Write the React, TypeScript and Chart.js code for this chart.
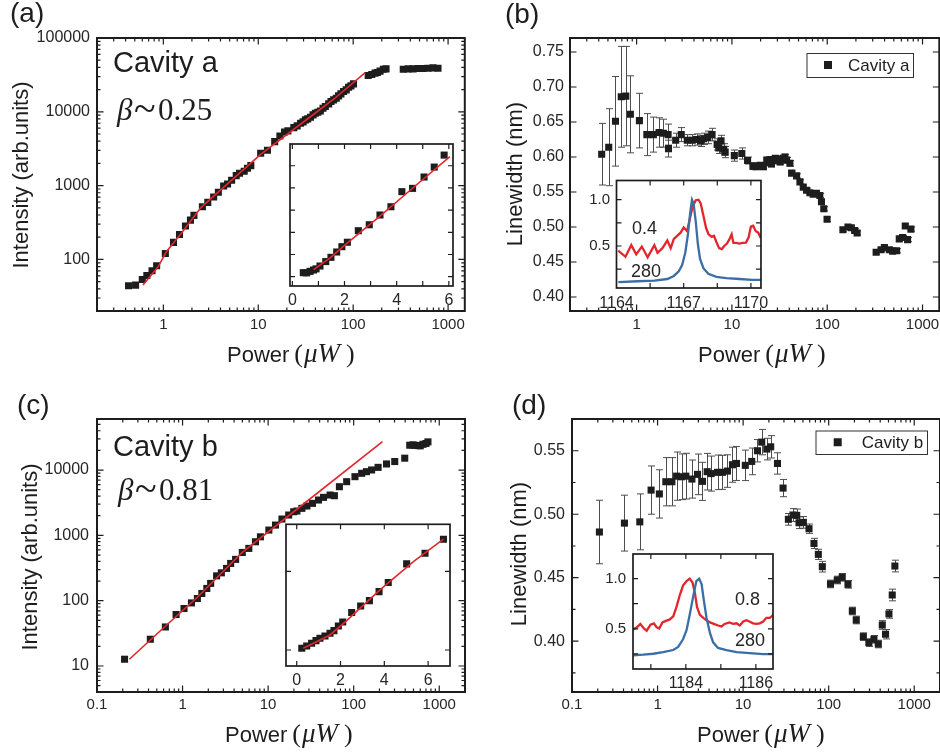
import React, { useEffect, useRef } from "react";
import { Chart, registerables } from "chart.js";

Chart.register(...registerables);

const SANS = '"Liberation Sans", Arial, Helvetica, sans-serif';
const SERIF = '"Liberation Serif", "Times New Roman", serif';
const INK = "#1d1d1d";
const LABEL = "#262626";
const RED = "#e3262b";
const BLUE = "#3b6ea6";
const ERRC = "#4d4d4d";

// ---------------- Panel (a) ----------------
const A_POWER = [0.43,0.51,0.60,0.67,0.76,0.85,1.05,1.28,1.48,1.71, 1.93,2.10,2.58,2.94,3.39,3.80,4.32,4.75,5.24,5.86, 6.35,7.11,7.70,8.35,10.6,12.5,14.9,16.9,18.9,20.5, 23.7,25.7,27.9,29.7,31.4,33.2,35.5,37.8,40.0,42.4, 45.1,48.1,50.9,55.2,58.4,62.2,66.4,70.2,74.3,79.2, 84.5,89.4,94.6,100.8,144,157,170,180,192,208, 222,337,380,428,483,545,615,694,783];
const A_INTENSITY = [43.9,44.8,53.5,60.6,70.1,82,120,170,218,283, 341,395,518,593,700,811,988,1052,1180,1365, 1469,1563,1718,1864,2741,3013,3945,4710,5335,5510, 6110,6440,7000,7300,7770,8020,8440,9080,9570,9870, 10280,11170,11770,12800,13770,14500,15270,16430,17500,18800, 19820,21540,22440,23900,31000,32000,33400,34000,35600,37800, 38200,37800,38200,38200,38600,38600,39000,39400,39000];
const A_FIT_POWER = [0.61,0.88,1.075,1.54,2.50,10.6,32.7,62.2,134];
const A_FIT_INTENSITY = [45,79.5,127,225,507,2657,7930,14800,34000];
const A_X_TICKS = [1, 10, 100, 1000];
const A_Y_TICKS = [100, 1000, 10000, 100000];

const A_INSET_POWER = [0.42,0.55,0.68,0.81,0.91,1.06,1.28,1.48,1.70,1.90,2.11,2.53,2.95,3.36,3.78,4.20,4.61,5.05,5.44,5.82];
const A_INSET_INTENSITY = [45,43,60,75,88,120,170,218,278,338,388,518,585,695,788,958,995,1123,1235,1370];
const A_INSET_FIT_POWER = [0.81,1.44,2.09,3.36,4.64,6.04];
const A_INSET_FIT_INTENSITY = [80,208,375,683,1005,1353];
const A_INSET_X_TICKS = [0, 2, 4, 6];

// ---------------- Panel (b) ----------------
const B_POWER = [0.43,0.51,0.60,0.69,0.77,0.86,1.07,1.28,1.50,1.72,1.91,2.14,2.16,2.57,2.94,3.40,3.84,4.26,4.69,5.07,5.58,6.19,7.00,7.28,7.69,8.20,8.50,10.6,12.7,14.6,16.6,18.0,19.8,21.4,23.2,24.0,25.1,26.0,27.2,28.5,29.5,31.0,32.0,34.6,36.0,37.5,40.6,42.3,47.7,51.7,56.0,60.7,65.7,71.2,77.1,83.6,87.0,92.0,99.6,146,165,179,194,206,326,367,398,449,486,535,570,618,659,697,755];
const B_LINEWIDTH = [0.604,0.614,0.651,0.686,0.687,0.661,0.652,0.632,0.632,0.635,0.634,0.632,0.612,0.624,0.632,0.624,0.624,0.625,0.623,0.626,0.628,0.632,0.618,0.613,0.623,0.611,0.607,0.602,0.605,0.595,0.587,0.586,0.588,0.586,0.5955,0.592,0.5965,0.590,0.5946,0.598,0.5955,0.597,0.593,0.598,0.600,0.5955,0.591,0.577,0.573,0.5645,0.557,0.5525,0.549,0.547,0.548,0.545,0.536,0.526,0.511,0.496,0.500,0.499,0.495,0.4915,0.464,0.4676,0.4705,0.4676,0.4655,0.466,0.483,0.485,0.5015,0.482,0.497];
const B_ERROR = [0.044,0.055,0.064,0.072,0.071,0.055, 0.039,0.030,0.025,0.021,0.020,0.015,0.012, 0.010,0.010,0.008,0.008,0.008,0.008,0.008,0.009,0.009, 0.008,0.008,0.008,0.008,0.008,0.008,0.008, 0.005,0.005, 0.004,0.004,0.004,0.004,0.004,0.004,0.004,0.004,0.004,0.004,0.004,0.004,0.004,0.004,0.004,0.004, 0.003,0.003,0.003,0.003,0.003,0.003,0.003,0.003,0.003,0.003,0.003,0.003,0.003,0.003,0.003,0.003,0.003,0.003,0.003,0.003,0.003,0.003,0.003,0.003,0.003,0.003,0.003,0.003];
const B_X_TICKS = [1, 10, 100, 1000];
const B_Y_TICKS = [0.40, 0.45, 0.50, 0.55, 0.60, 0.65, 0.70, 0.75];

const B_INSET_RED_NM = [1164.08,1164.40,1164.66,1164.88,1165.13,1165.39,1165.69,1165.83,1166.05,1166.27,1166.42,1166.56,1166.71,1166.86,1167.00,1167.15,1167.26,1167.40,1167.54,1167.66,1167.76,1167.88,1168.00,1168.11,1168.24,1168.35,1168.46,1168.58,1168.70,1168.81,1168.93,1169.05,1169.14,1169.22,1169.34,1169.49,1169.63,1169.78,1169.90,1170.00,1170.10,1170.22,1170.33,1170.44];
const B_INSET_RED_INT = [0.45,0.384,0.51,0.41,0.494,0.377,0.51,0.427,0.477,0.56,0.477,0.577,0.61,0.644,0.70,0.66,0.777,0.927,0.994,1.0,0.96,0.827,0.694,0.627,0.60,0.61,0.544,0.477,0.467,0.50,0.527,0.577,0.627,0.534,0.534,0.527,0.534,0.537,0.594,0.71,0.72,0.66,0.644,0.587];
const B_INSET_BLUE_NM = [1164.08,1164.95,1165.69,1166.27,1166.56,1166.78,1166.93,1167.07,1167.19,1167.29,1167.37,1167.44,1167.54,1167.63,1167.73,1167.88,1168.10,1168.46,1168.90,1169.49,1170.07,1170.44];
const B_INSET_BLUE_INT = [0.11,0.12,0.127,0.144,0.177,0.227,0.294,0.427,0.627,0.86,1.0,0.96,0.76,0.527,0.36,0.26,0.20,0.167,0.154,0.144,0.134,0.134];
const B_INSET_X_TICKS = [1164, 1167, 1170];
const B_INSET_Y_TICKS = [0.5, 1.0];

// ---------------- Panel (c) ----------------
const C_POWER = [0.21,0.42,0.63,0.84,1.04,1.27,1.49,1.68,1.92,2.13, 2.50,2.84,3.27,3.65,4.17,4.99,5.95,7.11,8.13,10.2, 12.2,14.5,17.4,19.9,21.7,24.8,28.4,33.0,38.8,44.4, 53.0,59.5,68.1,82.8,103.5,124,141,162,193,242, 302,395,452,494,520,564,600,645,700,738];
const C_INTENSITY = [12.7,25.7,39.6,61.4,75.9,92.5,108,129,154,184, 240,267,312,372,429,548,632,798,951,1205, 1438,1778,2050,2300,2360,2593,2815,3092,3477,3820, 4148,4050,5560,6640,7920,8920,9450,10030,11000,12400, 13500,15200,24000,24300,23900,23700,23500,24800,25500,27000];
const C_FIT_POWER = [0.239, 0.628, 1.49, 4.98, 19.9, 217];
const C_FIT_INTENSITY = [12.7, 40.6, 113, 548, 2300, 27300];
const C_X_TICKS = [0.1, 1, 10, 100, 1000];
const C_Y_TICKS = [10, 100, 1000, 10000];

const C_INSET_POWER = [0.23,0.455,0.68,0.88,1.06,1.29,1.52,1.70,1.90,2.10,2.51,2.92,3.32,3.76,4.18,5.02,5.86,6.70];
const C_INSET_INTENSITY = [10.5,25.5,42.5,59.5,74.5,89,106,123,153,178.5,238,280.5,314,371.5,429,548,615.5,705];
const C_INSET_FIT_POWER = [0.30,1.52,2.28,3.80,5.33,6.70];
const C_INSET_FIT_INTENSITY = [10.5,95.5,187,382,562.5,705];
const C_INSET_X_TICKS = [0, 2, 4, 6];

// ---------------- Panel (d) ----------------
const D_POWER = [0.209,0.41,0.62,0.84,1.05,1.25,1.47,1.67,1.91,2.14, 2.52,2.93,3.35,3.80,4.23,5.02,5.74,6.56,7.51,8.36, 10.6,12.6,14.7,16.5,18.9,21.0,25.2,29.3,33.8,38.3, 42.3,45.0,50.6,58.9,67.3,75.7,84.3,105,126,144, 168,189,210,254,295,338,380,423,462,506, 553,594];
const D_LINEWIDTH = [0.486,0.493,0.494,0.519,0.516,0.5256,0.5256,0.530,0.5295,0.530, 0.5277,0.5314,0.5259,0.5335,0.532,0.533,0.533,0.534,0.539,0.540, 0.5385,0.5416,0.550,0.5568,0.5513,0.5531,0.540,0.5206,0.496,0.4994, 0.4991,0.4933,0.4936,0.4886,0.477,0.4684,0.4587,0.4451,0.4482,0.4503, 0.4448,0.4238,0.4167,0.4036,0.3989,0.4015,0.3978,0.4128,0.4055,0.4215, 0.4364,0.4592];
const D_ERROR = [0.025,0.022,0.022,0.019,0.019,0.019,0.019,0.019,0.018,0.018, 0.015,0.016,0.015,0.0144,0.0138,0.0136,0.0134,0.0128,0.0138,0.0134, 0.012,0.0105,0.0088,0.010,0.0085,0.0088,0.0084,0.0068,0.0046,0.005, 0.005,0.0046,0.0046,0.0037,0.004,0.004,0.0042,0.003,0.003,0.003, 0.003,0.003,0.003,0.003,0.003,0.003,0.003,0.0034,0.0037,0.0034, 0.0046,0.0046];
const D_X_TICKS = [0.1, 1, 10, 100, 1000];
const D_Y_TICKS = [0.40, 0.45, 0.50, 0.55];

const D_INSET_RED_NM = [1182.50,1182.61,1182.70,1182.80,1182.88,1182.99,1183.09,1183.16,1183.24,1183.33,1183.43,1183.54,1183.64,1183.73,1183.83,1183.92,1184.02,1184.11,1184.19,1184.26,1184.32,1184.40,1184.50,1184.59,1184.69,1184.80,1184.92,1185.02,1185.11,1185.24,1185.35,1185.45,1185.54,1185.64,1185.73,1185.83,1185.92,1186.02,1186.11,1186.21,1186.30,1186.40,1186.50];
const D_INSET_RED_INT = [0.494,0.518,0.549,0.503,0.481,0.542,0.555,0.518,0.503,0.564,0.579,0.594,0.625,0.716,0.839,0.93,0.976,1.0,0.961,0.854,0.716,0.64,0.61,0.585,0.564,0.549,0.533,0.524,0.549,0.564,0.549,0.555,0.533,0.573,0.585,0.57,0.555,0.549,0.555,0.573,0.61,0.61,0.64];
const D_INSET_BLUE_NM = [1182.50,1182.78,1183.07,1183.35,1183.64,1183.78,1183.92,1184.02,1184.11,1184.21,1184.30,1184.38,1184.45,1184.51,1184.59,1184.69,1184.78,1184.92,1185.16,1185.45,1185.92,1186.21,1186.50];
const D_INSET_BLUE_INT = [0.237,0.243,0.252,0.268,0.289,0.32,0.396,0.487,0.64,0.823,0.976,1.0,0.945,0.793,0.61,0.457,0.365,0.31,0.289,0.268,0.255,0.249,0.249];
const D_INSET_X_TICKS = [1184, 1186];
const D_INSET_Y_TICKS = [0.5, 1.0];

// ---------------- helpers ----------------
type Mark = { v: number; major: boolean };

function logMarks(min: number, max: number): Mark[] {
  const out: Mark[] = [];
  for (let d = Math.floor(Math.log10(min)); d <= Math.ceil(Math.log10(max)); d++) {
    for (let m = 1; m <= 9; m++) {
      const v = m * Math.pow(10, d);
      if (v >= min && v <= max) out.push({ v, major: m === 1 });
    }
  }
  return out;
}

function linMarks(min: number, max: number, step: number, majorStep: number): Mark[] {
  const out: Mark[] = [];
  const start = Math.ceil(min / step - 1e-6);
  for (let k = start; k * step <= max + 1e-9; k++) {
    const v = k * step;
    const r = v / majorStep;
    out.push({ v, major: Math.abs(r - Math.round(r)) < 1e-6 });
  }
  return out;
}

const pts = (xs: number[], ys: number[]) => xs.map((x, i) => ({ x, y: ys[i] }));
const squares = (xs: number[], ys: number[], r = 5) => ({
  data: pts(xs, ys), showLine: false, pointStyle: "rect", pointRadius: r,
  pointBackgroundColor: INK, pointBorderColor: INK, pointBorderWidth: 0,
  backgroundColor: INK, borderColor: INK,
});
const curve = (xs: number[], ys: number[], color: string, w: number) => ({
  data: pts(xs, ys), showLine: true, pointRadius: 0, borderColor: color,
  backgroundColor: color, borderWidth: w, fill: false, tension: 0,
});

function txt(ctx: any, s: string, x: number, y: number, font: string, align = "left", base = "alphabetic", color = INK) {
  ctx.font = font; ctx.textAlign = align; ctx.textBaseline = base; ctx.fillStyle = color;
  ctx.fillText(s, x, y);
}
function vtxt(ctx: any, s: string, cx: number, cy: number, font: string) {
  ctx.save(); ctx.translate(cx, cy); ctx.rotate(-Math.PI / 2);
  txt(ctx, s, 0, 0, font, "center", "middle");
  ctx.restore();
}
function powerTitle(ctx: any, left: number, base: number) {
  txt(ctx, "Power", left, base, `22px ${SANS}`);
  ctx.font = `22px ${SANS}`;
  let x = left + ctx.measureText("Power").width + 5;
  txt(ctx, "(", x, base, `26px ${SERIF}`);
  ctx.font = `26px ${SERIF}`;
  x += ctx.measureText("(").width + 1;
  txt(ctx, "\u03BCW", x, base, `italic 27px ${SERIF}`);
  ctx.font = `italic 27px ${SERIF}`;
  x += ctx.measureText("\u03BCW").width + 6;
  txt(ctx, ")", x, base, `26px ${SERIF}`);
}
function betaText(ctx: any, left: number, base: number, val: string) {
  txt(ctx, "\u03B2", left, base, `italic 31px ${SERIF}`);
  txt(ctx, "~", left + 17, base + 2, `40px ${SERIF}`);
  txt(ctx, val, left + 41, base, `31px ${SERIF}`);
}
function legendBox(ctx: any, x: number, y: number, w: number, h: number, mx: number, tx: number, label: string) {
  ctx.save();
  ctx.fillStyle = "#fff"; ctx.fillRect(x, y, w, h);
  ctx.strokeStyle = "#333"; ctx.lineWidth = 1; ctx.strokeRect(x + 0.5, y + 0.5, w, h);
  ctx.fillStyle = INK; ctx.fillRect(mx - 4, y + h / 2 - 4, 8, 8);
  txt(ctx, label, tx, y + h / 2 + 1, `17px ${SANS}`, "left", "middle");
  ctx.restore();
}

type AxisSpec = {
  type: string; min: number; max: number; labels: number[];
  fmt: (v: number) => string; pad: number; size: number; marks: Mark[];
};

function axisOptions(s: AxisSpec, dir: string, box: number) {
  return {
    type: s.type, min: s.min, max: s.max, position: dir === "x" ? "bottom" : "left",
    grid: { display: false, drawTicks: false },
    border: { display: false },
    ticks: {
      display: s.labels.length > 0, autoSkip: false, maxRotation: 0, minRotation: 0,
      padding: s.pad, color: LABEL, font: { family: SANS, size: s.size },
      callback: (v: any) => s.fmt(Number(v)),
    },
    afterBuildTicks: (scale: any) => { scale.ticks = s.labels.map((v) => ({ value: v })); },
    afterFit: (scale: any) => { if (dir === "x") scale.height = box; else scale.width = box; },
  };
}

type Spec = {
  id: string;
  canvas: { x: number; y: number; w: number; h: number };
  area: { l: number; t: number; r: number; b: number };
  x: AxisSpec; y: AxisSpec;
  datasets: any[];
  inset: boolean;
  errors?: { xs: number[]; ys: number[]; es: number[] };
  draw?: (ctx: any) => void;
};

function buildConfig(sp: Spec) {
  const c = sp.canvas, a = sp.area;
  const frameW = sp.inset ? 1.7 : 2;
  const majL = sp.inset ? 5 : 6.5;
  const minL = sp.inset ? 5 : 3.5;
  const plugin = {
    id: "deco_" + sp.id,
    beforeDraw(chart: any) {
      if (!sp.inset) return;
      const ca = chart.chartArea, ctx = chart.ctx;
      ctx.save(); ctx.fillStyle = "#fff";
      ctx.fillRect(ca.left, ca.top, ca.right - ca.left, ca.bottom - ca.top);
      ctx.restore();
    },
    beforeDatasetsDraw(chart: any) {
      if (!sp.errors) return;
      const ctx = chart.ctx, xs = chart.scales.x, ys = chart.scales.y;
      const e = sp.errors;
      ctx.save(); ctx.strokeStyle = ERRC; ctx.lineWidth = 1;
      for (let i = 0; i < e.xs.length; i++) {
        const px = Math.round(xs.getPixelForValue(e.xs[i])) + 0.5;
        const p1 = ys.getPixelForValue(e.ys[i] + e.es[i]);
        const p2 = ys.getPixelForValue(e.ys[i] - e.es[i]);
        ctx.beginPath();
        ctx.moveTo(px, p1); ctx.lineTo(px, p2);
        ctx.moveTo(px - 3.5, p1); ctx.lineTo(px + 3.5, p1);
        ctx.moveTo(px - 3.5, p2); ctx.lineTo(px + 3.5, p2);
        ctx.stroke();
      }
      ctx.restore();
    },
    afterDraw(chart: any) {
      const ctx = chart.ctx, ca = chart.chartArea;
      const xs = chart.scales.x, ys = chart.scales.y;
      ctx.save();
      ctx.strokeStyle = INK; ctx.lineWidth = 1.2;
      ctx.beginPath();
      for (const m of sp.x.marks) {
        const p = xs.getPixelForValue(m.v);
        if (p < ca.left + 1.5 || p > ca.right - 1.5) continue;
        const L = m.major ? majL : minL;
        ctx.moveTo(p, ca.bottom); ctx.lineTo(p, ca.bottom - L);
        ctx.moveTo(p, ca.top); ctx.lineTo(p, ca.top + L);
      }
      for (const m of sp.y.marks) {
        const p = ys.getPixelForValue(m.v);
        if (p < ca.top + 1.5 || p > ca.bottom - 1.5) continue;
        const L = m.major ? majL : minL;
        ctx.moveTo(ca.left, p); ctx.lineTo(ca.left + L, p);
        ctx.moveTo(ca.right, p); ctx.lineTo(ca.right - L, p);
      }
      ctx.stroke();
      ctx.lineWidth = frameW;
      ctx.strokeRect(ca.left, ca.top, ca.right - ca.left, ca.bottom - ca.top);
      if (sp.draw) {
        ctx.translate(-c.x, -c.y);
        sp.draw(ctx);
      }
      ctx.restore();
    },
  };
  return {
    type: "scatter",
    data: { datasets: sp.datasets },
    options: {
      responsive: false, animation: false, devicePixelRatio: 1, events: [],
      layout: { padding: { left: 0, top: a.t - c.y, right: c.x + c.w - a.r, bottom: 0 } },
      plugins: { legend: { display: false }, tooltip: { enabled: false }, title: { display: false } },
      scales: {
        x: axisOptions(sp.x, "x", c.y + c.h - a.b),
        y: axisOptions(sp.y, "y", a.l - c.x),
      },
    },
    plugins: [plugin],
  };
}

const str = (v: number) => String(v);
const f2 = (v: number) => v.toFixed(2);
const f1 = (v: number) => v.toFixed(1);
const intLbl = (v: number) => String(Math.round(v));

// ---------------- specs ----------------
const SPEC_A: Spec = {
  id: "a",
  canvas: { x: 0, y: 0, w: 470, h: 375 },
  area: { l: 97, t: 38, r: 466, b: 311 },
  x: { type: "logarithmic", min: 0.2, max: 1500, labels: A_X_TICKS, fmt: str, pad: 5, size: 15, marks: logMarks(0.2, 1500) },
  y: { type: "logarithmic", min: 20, max: 100000, labels: A_Y_TICKS, fmt: str, pad: 7, size: 16, marks: logMarks(20, 100000) },
  datasets: [curve(A_FIT_POWER, A_FIT_INTENSITY, RED, 1.6), squares(A_POWER, A_INTENSITY)],
  inset: false,
  draw: (ctx) => {
    txt(ctx, "(a)", 10, 21.5, `28px ${SANS}`);
    txt(ctx, "Cavity a", 113, 72, `29px ${SANS}`);
    betaText(ctx, 117, 120, "0.25");
    vtxt(ctx, "Intensity (arb.units)", 22, 175, `22px ${SANS}`);
    powerTitle(ctx, 227, 362);
  },
};

const SPEC_A_IN: Spec = {
  id: "ai",
  canvas: { x: 265, y: 138, w: 195, h: 175 },
  area: { l: 290, t: 144, r: 453, b: 286 },
  x: { type: "linear", min: -0.09, max: 6.16, labels: A_INSET_X_TICKS, fmt: intLbl, pad: 5, size: 16, marks: linMarks(-0.09, 6.16, 1, 1) },
  y: { type: "linear", min: -105, max: 1495, labels: [], fmt: str, pad: 5, size: 15, marks: linMarks(-105, 1495, 250, 250) },
  datasets: [curve(A_INSET_FIT_POWER, A_INSET_FIT_INTENSITY, RED, 1.6), squares(A_INSET_POWER, A_INSET_INTENSITY)],
  inset: true,
};

const SPEC_B: Spec = {
  id: "b",
  canvas: { x: 470, y: 0, w: 475, h: 375 },
  area: { l: 570, t: 38, r: 939.3, b: 311 },
  x: { type: "logarithmic", min: 0.2, max: 1500, labels: B_X_TICKS, fmt: str, pad: 5, size: 15, marks: logMarks(0.2, 1500) },
  y: { type: "linear", min: 0.38, max: 0.77, labels: B_Y_TICKS, fmt: f2, pad: 6, size: 16, marks: linMarks(0.38, 0.77, 0.05, 0.05) },
  datasets: [squares(B_POWER, B_LINEWIDTH)],
  errors: { xs: B_POWER, ys: B_LINEWIDTH, es: B_ERROR },
  inset: false,
  draw: (ctx) => {
    txt(ctx, "(b)", 505, 22.5, `28px ${SANS}`);
    vtxt(ctx, "Linewidth (nm)", 516, 174, `22px ${SANS}`);
    powerTitle(ctx, 698, 362);
    legendBox(ctx, 806.5, 53, 106.5, 24, 828, 848, "Cavity a");
  },
};

const SPEC_B_IN: Spec = {
  id: "bi",
  canvas: { x: 580, y: 165, w: 195, h: 150 },
  area: { l: 616.5, t: 172, r: 762, b: 288 },
  x: { type: "linear", min: 1164, max: 1170.45, labels: B_INSET_X_TICKS, fmt: intLbl, pad: 6, size: 16, marks: linMarks(1164, 1170.45, 1.5, 1.5) },
  y: { type: "linear", min: 0.047, max: 1.207, labels: B_INSET_Y_TICKS, fmt: f1, pad: 6.5, size: 15, marks: linMarks(0.047, 1.207, 0.25, 0.25) },
  datasets: [curve(B_INSET_BLUE_NM, B_INSET_BLUE_INT, BLUE, 2.3), curve(B_INSET_RED_NM, B_INSET_RED_INT, RED, 2.3)],
  inset: true,
  draw: (ctx) => {
    txt(ctx, "0.4", 632, 234, `18px ${SANS}`, "left", "alphabetic", LABEL);
    txt(ctx, "280", 631, 276.5, `18px ${SANS}`, "left", "alphabetic", LABEL);
  },
};

const SPEC_C: Spec = {
  id: "c",
  canvas: { x: 0, y: 375, w: 470, h: 378 },
  area: { l: 97, t: 419, r: 466, b: 692 },
  x: { type: "logarithmic", min: 0.1, max: 2000, labels: C_X_TICKS, fmt: str, pad: 4, size: 15, marks: logMarks(0.1, 2000) },
  y: { type: "logarithmic", min: 4, max: 60500, labels: C_Y_TICKS, fmt: str, pad: 8, size: 16, marks: logMarks(4, 60500) },
  datasets: [curve(C_FIT_POWER, C_FIT_INTENSITY, RED, 1.6), squares(C_POWER, C_INTENSITY)],
  inset: false,
  draw: (ctx) => {
    txt(ctx, "(c)", 17, 413.5, `28px ${SANS}`);
    txt(ctx, "Cavity b", 113, 456, `29px ${SANS}`);
    betaText(ctx, 118, 500, "0.81");
    vtxt(ctx, "Intensity (arb.units)", 31, 557, `22px ${SANS}`);
    powerTitle(ctx, 225, 741.5);
  },
};

const SPEC_C_IN: Spec = {
  id: "ci",
  canvas: { x: 260, y: 518, w: 198, h: 175 },
  area: { l: 286, t: 524.3, r: 450, b: 666 },
  x: { type: "linear", min: -0.49, max: 7.0, labels: C_INSET_X_TICKS, fmt: intLbl, pad: 5, size: 16, marks: linMarks(-0.49, 7.0, 2, 2) },
  y: { type: "linear", min: -102, max: 800, labels: [], fmt: str, pad: 5, size: 15, marks: linMarks(-102, 800, 500, 500) },
  datasets: [curve(C_INSET_FIT_POWER, C_INSET_FIT_INTENSITY, RED, 1.6), squares(C_INSET_POWER, C_INSET_INTENSITY)],
  inset: true,
};

const SPEC_D: Spec = {
  id: "d",
  canvas: { x: 470, y: 375, w: 475, h: 378 },
  area: { l: 572, t: 419, r: 941, b: 692 },
  x: { type: "logarithmic", min: 0.1, max: 2000, labels: D_X_TICKS, fmt: str, pad: 4, size: 15, marks: logMarks(0.1, 2000) },
  y: { type: "linear", min: 0.36, max: 0.575, labels: D_Y_TICKS, fmt: f2, pad: 7, size: 16, marks: linMarks(0.36, 0.575, 0.025, 0.05) },
  datasets: [squares(D_POWER, D_LINEWIDTH)],
  errors: { xs: D_POWER, ys: D_LINEWIDTH, es: D_ERROR },
  inset: false,
  draw: (ctx) => {
    txt(ctx, "(d)", 512, 413.5, `28px ${SANS}`);
    vtxt(ctx, "Linewidth (nm)", 520, 554, `22px ${SANS}`);
    powerTitle(ctx, 697, 741.5);
    legendBox(ctx, 815.5, 430.5, 111.5, 23.5, 837.7, 861.7, "Cavity b");
  },
};

const SPEC_D_IN: Spec = {
  id: "di",
  canvas: { x: 595, y: 538, w: 190, h: 155 },
  area: { l: 633, t: 544, r: 773, b: 669 },
  x: { type: "linear", min: 1182.49, max: 1186.49, labels: D_INSET_X_TICKS, fmt: intLbl, pad: 4.7, size: 16, marks: linMarks(1182.49, 1186.49, 1, 1) },
  y: { type: "linear", min: 0.1, max: 1.245, labels: D_INSET_Y_TICKS, fmt: f1, pad: 7, size: 15, marks: linMarks(0.1, 1.245, 0.25, 0.25) },
  datasets: [curve(D_INSET_BLUE_NM, D_INSET_BLUE_INT, BLUE, 2.3), curve(D_INSET_RED_NM, D_INSET_RED_INT, RED, 2.3)],
  inset: true,
  draw: (ctx) => {
    txt(ctx, "0.8", 735, 604.7, `18px ${SANS}`, "left", "alphabetic", LABEL);
    txt(ctx, "280", 735, 645.7, `18px ${SANS}`, "left", "alphabetic", LABEL);
  },
};

const SPECS: Spec[] = [SPEC_A, SPEC_B, SPEC_C, SPEC_D, SPEC_A_IN, SPEC_B_IN, SPEC_C_IN, SPEC_D_IN];

function ChartCanvas({ spec }: { spec: Spec }) {
  const ref = useRef<HTMLCanvasElement | null>(null);
  useEffect(() => {
    if (!ref.current) return;
    const chart = new Chart(ref.current, buildConfig(spec) as any);
    return () => chart.destroy();
  }, [spec]);
  const c = spec.canvas;
  return (
    <canvas
      ref={ref}
      width={c.w}
      height={c.h}
      style={{ position: "absolute", left: c.x, top: c.y, width: c.w, height: c.h }}
    />
  );
}

export default function App() {
  return (
    <div style={{ position: "fixed", left: 0, top: 0, width: 940, height: 753, overflow: "hidden", background: "#fff" }}>
      {SPECS.map((s) => (
        <ChartCanvas key={s.id} spec={s} />
      ))}
    </div>
  );
}
